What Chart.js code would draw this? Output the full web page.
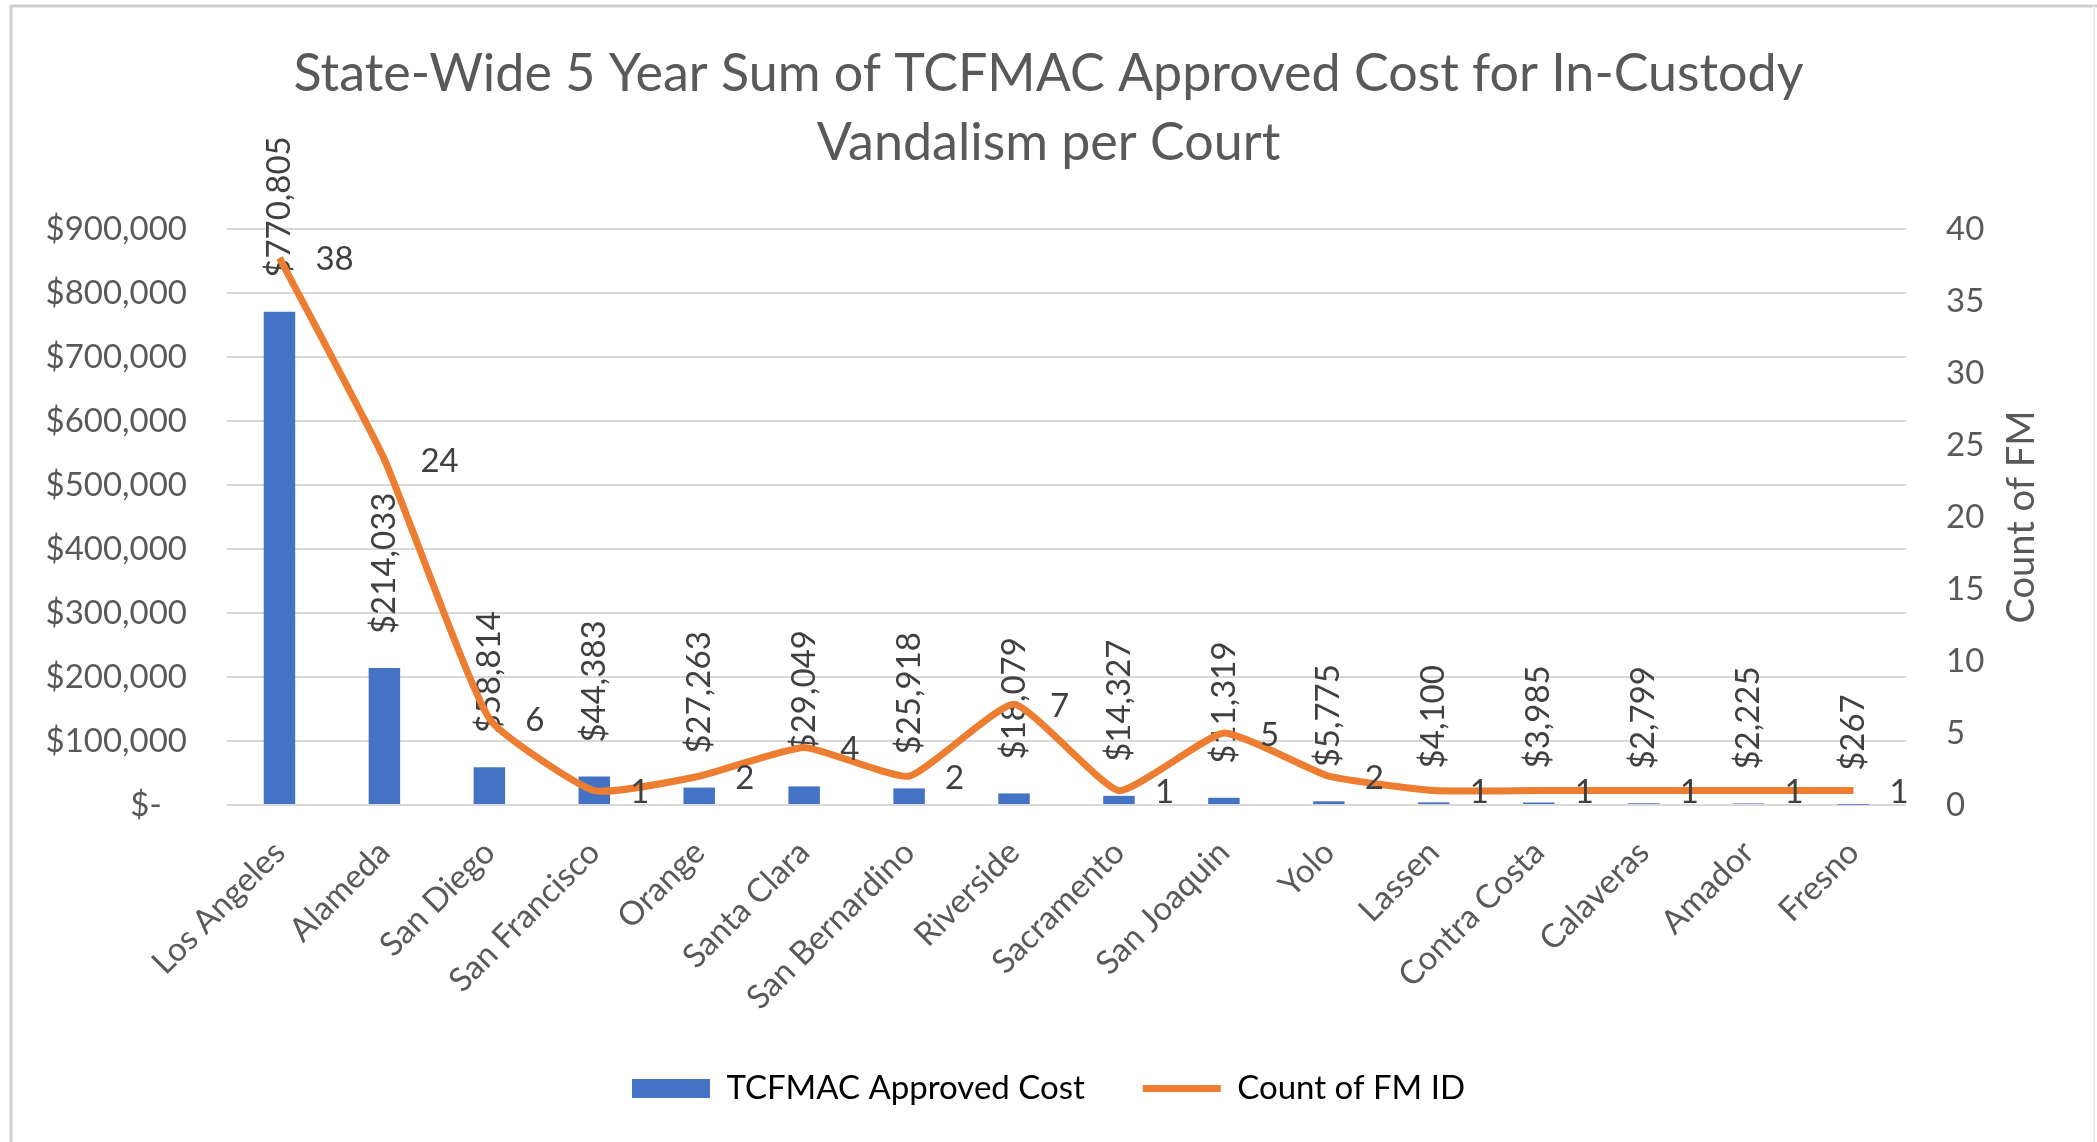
<!DOCTYPE html>
<html><head><meta charset="utf-8">
<script src="https://cdn.jsdelivr.net/npm/chart.js@4.4.1/dist/chart.umd.min.js"></script>
<style>html,body{margin:0;padding:0;background:#fff;overflow:hidden}</style>
</head><body>
<canvas id="c" width="2097" height="1142"></canvas>
<script>
const titleLines = ['State-Wide 5 Year Sum of TCFMAC Approved Cost for In-Custody', 'Vandalism per Court'];
const courts = ['Los Angeles','Alameda','San Diego','San Francisco','Orange','Santa Clara','San Bernardino','Riverside','Sacramento','San Joaquin','Yolo','Lassen','Contra Costa','Calaveras','Amador','Fresno'];
const approvedCost = [770805,214033,58814,44383,27263,29049,25918,18079,14327,11319,5775,4100,3985,2799,2225,267];
const fmCount = [38,24,6,1,2,4,2,7,1,5,2,1,1,1,1,1];
const costAxisMax = 900000, costAxisStep = 100000;
const countAxisMax = 40, countAxisStep = 5;
const seriesNames = ['TCFMAC Approved Cost', 'Count of FM ID'];
const countAxisTitle = 'Count of FM';

const FONT = 'Lato';
const money = v => v === 0 ? '$-   ' : '$' + v.toLocaleString('en-US');

const framePlugin = {
  id: 'frame',
  beforeDraw(chart) {
    const ctx = chart.ctx;
    ctx.save();
    ctx.fillStyle = '#fff';
    ctx.fillRect(0, 0, chart.width, chart.height);
    ctx.strokeStyle = '#cfcfcf';
    ctx.lineWidth = 3;
    ctx.beginPath();
    ctx.moveTo(11, chart.height);
    ctx.lineTo(11, 6);
    ctx.lineTo(chart.width, 6);
    ctx.stroke();
    ctx.strokeStyle = '#ececec';
    ctx.lineWidth = 2;
    ctx.beginPath();
    ctx.moveTo(2094, 6);
    ctx.lineTo(2094, chart.height);
    ctx.stroke();
    ctx.restore();
  }
};

const labelPlugin = {
  id: 'valueLabels',
  afterDatasetDraw(chart, args) {
    if (args.index !== 0) return;
    const ctx = chart.ctx;
    ctx.save();
    ctx.font = '33px ' + FONT;
    ctx.fillStyle = '#404040';
    ctx.textAlign = 'left';
    ctx.textBaseline = 'middle';
    args.meta.data.forEach((bar, i) => {
      ctx.save();
      ctx.translate(bar.x, bar.y - 34);
      ctx.rotate(-Math.PI / 2);
      ctx.fillText(money(approvedCost[i]), 0, 0);
      ctx.restore();
    });
    ctx.restore();
  },
  afterDatasetsDraw(chart) {
    const ctx = chart.ctx;
    const meta = chart.getDatasetMeta(1);
    ctx.save();
    ctx.font = '33px ' + FONT;
    ctx.fillStyle = '#404040';
    ctx.textAlign = 'left';
    ctx.textBaseline = 'middle';
    meta.data.forEach((pt, i) => {
      ctx.fillText(String(fmCount[i]), pt.x + 36, pt.y + 2);
    });
    const s = chart.scales.y1;
    ctx.font = '38px ' + FONT;
    ctx.fillStyle = '#595959';
    ctx.textAlign = 'center';
    ctx.translate(s.left + 116, (chart.chartArea.top + chart.chartArea.bottom) / 2);
    ctx.rotate(-Math.PI / 2);
    ctx.fillText(countAxisTitle, 0, 0);
    ctx.restore();
  }
};

new Chart(document.getElementById('c'), {
  data: {
    labels: courts,
    datasets: [
      { type: 'bar', label: seriesNames[0], data: approvedCost, yAxisID: 'y', backgroundColor: '#4472C4', borderWidth: 0, barPercentage: 0.3, categoryPercentage: 1, order: 1 },
      { type: 'line', label: seriesNames[1], data: fmCount, yAxisID: 'y1', borderColor: '#ED7D31', backgroundColor: '#ED7D31', borderWidth: 7, pointRadius: 0, tension: 0.15, order: 0 }
    ]
  },
  options: {
    responsive: false,
    devicePixelRatio: 1,
    animation: false,
    layout: { padding: { left: 10, right: 10, top: 0, bottom: 27 } },
    plugins: {
      title: { display: true, text: titleLines, color: '#595959', font: { family: FONT, size: 52, weight: 'normal', lineHeight: 1.337 }, padding: { top: 39, bottom: 51 } },
      legend: {
        position: 'bottom',
        labels: {
          usePointStyle: true, pointStyleWidth: 78, boxHeight: 19, padding: 58,
          color: '#595959', font: { family: FONT, size: 33 },
          generateLabels(chart) {
            return chart.data.datasets.map((d, i) => ({
              text: d.label, datasetIndex: i,
              fillStyle: d.backgroundColor, strokeStyle: d.type === 'line' ? d.borderColor : d.backgroundColor,
              lineWidth: d.type === 'line' ? 7 : 0, pointStyle: d.type === 'line' ? 'line' : 'rect', hidden: false
            }));
          }
        }
      },
      tooltip: { enabled: false }
    },
    scales: {
      x: {
        grid: { display: false }, border: { display: false },
        ticks: { color: '#595959', font: { family: FONT, size: 33 }, maxRotation: 45, minRotation: 45, padding: 20, autoSkip: false },
        afterFit(s) { s.height = 209; }
      },
      y: {
        position: 'left', min: 0, max: costAxisMax,
        grid: { color: '#d9d9d9', lineWidth: 2, drawTicks: false }, border: { display: false },
        ticks: { stepSize: costAxisStep, color: '#595959', font: { family: FONT, size: 33 }, padding: 40, callback: v => money(v) },
        afterFit(s) { s.width = 217; }
      },
      y1: {
        position: 'right', min: 0, max: countAxisMax,
        grid: { display: false, drawTicks: false }, border: { display: false },
        ticks: { stepSize: countAxisStep, color: '#595959', font: { family: FONT, size: 33 }, padding: 40 },
        afterFit(s) { s.width = 181; }
      }
    }
  },
  plugins: [framePlugin, labelPlugin]
});
</script>
</body></html>
